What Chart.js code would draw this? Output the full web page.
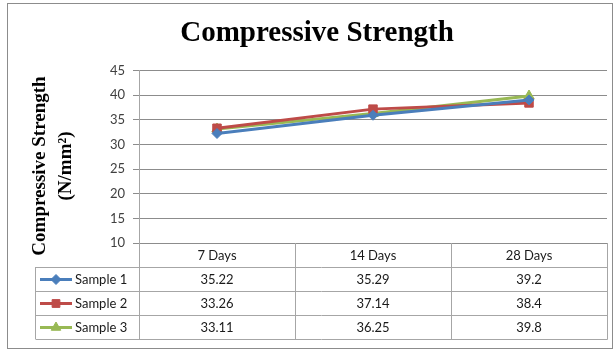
<!DOCTYPE html>
<html lang="en">
<head>
<meta charset="UTF-8">
<title>Compressive Strength</title>
<script src="https://cdn.jsdelivr.net/npm/chart.js"></script>
<style>
    html, body { margin: 0; padding: 0; background: #fff; }
    #wrap { width: 615px; height: 352px; position: relative; }
</style>
</head>
<body>
<div id="wrap"><canvas id="chart" width="615" height="352"></canvas></div>
<script>
// values as plotted
const categories = ['7 Days', '14 Days', '28 Days'];
const sample1 = [32.2, 35.9, 39.0];
const sample2 = [33.26, 37.14, 38.4];
const sample3 = [33.11, 36.25, 39.8];
// numbers printed in the data table
const table1 = ['35.22', '35.29', '39.2'];
const table2 = ['33.26', '37.14', '38.4'];
const table3 = ['33.11', '36.25', '39.8'];
const seriesNames = ['Sample 1', 'Sample 2', 'Sample 3'];
const yTicks = [10, 15, 20, 25, 30, 35, 40, 45];
const yTitle = ['Compressive Strength', '(N/mm²)'];

const colors = ['#4a7ebb', '#be4b48', '#98b954'];
const shapes = ['rectRot', 'rect', 'triangle'];
const tableFont = '13px Lato, "Open Sans", sans-serif';

// outer frame, y title and data table under the plot
const tablePlugin = {
    id: 'dataTable',
    beforeDraw(chart) {
        const c = chart.ctx;
        c.save();
        c.strokeStyle = '#8c8c8c';
        c.lineWidth = 1;
        c.strokeRect(7.5, 3.5, 605, 345);
        c.restore();
    },
    afterDraw(chart) {
        const c = chart.ctx;
        const area = chart.chartArea;
        const xs = chart.scales.x;
        const rowH = 24;
        const top = area.bottom;
        const legendLeft = 35.5;
        const right = Math.round(area.right) + 0.5;
        const step = (area.right - area.left) / categories.length;
        const rows = [table1, table2, table3];

        c.save();
        // rotated axis title, centred on plot + table
        c.translate(0, 166);
        c.rotate(-Math.PI / 2);
        c.fillStyle = '#000';
        c.font = 'bold 19px "Liberation Serif", serif';
        c.textAlign = 'center';
        c.textBaseline = 'middle';
        c.fillText(yTitle[0], 0, 40);
        c.fillText(yTitle[1], 0, 66);
        c.restore();

        c.save();
        c.strokeStyle = '#a6a6a6';
        c.lineWidth = 1;
        c.beginPath();
        for (let i = 1; i <= 4; i++) {
            const y = Math.round(top + i * rowH) + 0.5;
            c.moveTo(legendLeft, y);
            c.lineTo(right, y);
        }
        c.moveTo(legendLeft, top + rowH);
        c.lineTo(legendLeft, top + 4 * rowH);
        for (let i = 0; i <= categories.length; i++) {
            const x = Math.round(area.left + i * step) + 0.5;
            c.moveTo(x, top);
            c.lineTo(x, top + 4 * rowH + 0.5);
        }
        c.stroke();

        c.fillStyle = '#1a1a1a';
        c.font = tableFont;
        c.textAlign = 'center';
        c.textBaseline = 'middle';
        categories.forEach((cat, i) => {
            const x = xs.getPixelForValue(i);
            c.fillText(cat, x, top + rowH / 2 + 1);
            rows.forEach((r, j) => {
                c.fillText(r[i], x, top + rowH * (j + 1.5) + 1);
            });
        });

        // legend keys
        rows.forEach((r, j) => {
            const y = top + rowH * (j + 1.5) + 0.5;
            c.strokeStyle = colors[j];
            c.lineWidth = 3;
            c.beginPath();
            c.moveTo(40, y);
            c.lineTo(72, y);
            c.stroke();
            c.fillStyle = colors[j];
            c.strokeStyle = colors[j];
            c.lineWidth = 1;
            Chart.helpers.drawPoint(c, { pointStyle: shapes[j], radius: j === 0 ? 5 : 5.5, rotation: 0, borderWidth: 1 }, 56, y);
            c.fillStyle = '#1a1a1a';
            c.textAlign = 'left';
            c.fillText(seriesNames[j], 75, y + 0.5);
        });
        c.restore();
    }
};

function dataset(label, data, i) {
    return {
        label: label,
        data: data,
        borderColor: colors[i],
        backgroundColor: colors[i],
        borderWidth: 3,
        pointStyle: shapes[i],
        pointRadius: i === 0 ? 5 : 6,
        pointBorderWidth: 1,
        tension: 0
    };
}

new Chart(document.getElementById('chart'), {
    type: 'line',
    data: {
        labels: categories,
        datasets: [
            dataset(seriesNames[0], sample1, 0),
            dataset(seriesNames[1], sample2, 1),
            dataset(seriesNames[2], sample3, 2)
        ]
    },
    options: {
        responsive: false,
        animation: false,
        layout: { padding: { top: 0, left: 27, right: 8, bottom: 13 } },
        plugins: {
            legend: { display: false },
            tooltip: { enabled: false },
            title: {
                display: true,
                text: 'Compressive Strength',
                color: '#000',
                font: { family: '"Liberation Serif", serif', size: 29, weight: 'bold', lineHeight: 1.15 },
                padding: { top: 17, bottom: 20 }
            }
        },
        scales: {
            x: {
                offset: true,
                grid: { display: false },
                border: { display: false },
                ticks: { display: false },
                afterFit(scale) { scale.height = 96; }
            },
            y: {
                min: 10,
                max: 45,
                afterBuildTicks(scale) { scale.ticks = yTicks.map(v => ({ value: v })); },
                ticks: {
                    color: '#404040',
                    font: { family: 'Lato, "Open Sans", sans-serif', size: 13 },
                    padding: 8
                },
                grid: { color: '#8c8c8c', lineWidth: 1, drawTicks: true, tickLength: 6 },
                border: { display: true, color: '#a6a6a6' },
                title: { display: false },
                afterFit(scale) { scale.width = 112; }
            }
        }
    },
    plugins: [tablePlugin]
});
</script>
</body>
</html>
